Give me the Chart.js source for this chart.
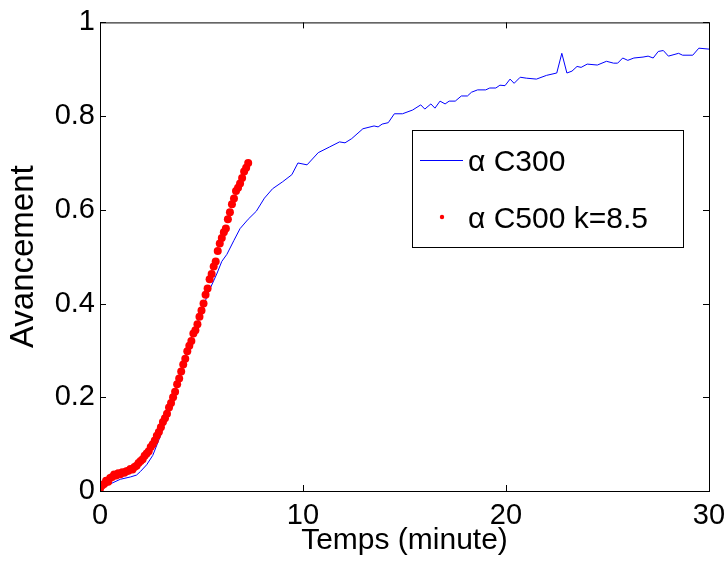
<!DOCTYPE html>
<html>
<head>
<meta charset="utf-8">
<script src="https://cdn.jsdelivr.net/npm/chart.js@4.4.1/dist/chart.umd.min.js"></script>
<style>
  html, body { margin: 0; padding: 0; background: #fff; }
  #wrap { width: 728px; height: 563px; }
</style>
</head>
<body>
<div id="wrap"><canvas id="avancement" width="728" height="563"></canvas></div>
<script>
// alpha C300 (blue line)
const blueT = [0, 0.5, 1.0, 1.5, 1.8, 2.0, 2.3, 2.6, 3.0, 3.3, 3.6, 4.0, 4.3, 4.6, 5.0, 5.3, 5.75, 6.0, 6.25, 6.6,
  6.9, 7.3, 7.7, 8.1, 8.5, 9.0, 9.45, 9.75, 10.2, 10.75, 11.3, 11.8, 12.07, 12.4, 12.95, 13.5, 13.7, 13.9, 14.2, 14.5,
  14.9, 15.4, 15.8, 16.0, 16.3, 16.5, 16.75, 17.0, 17.2, 17.5, 17.8, 18.1, 18.3, 18.6, 19.0, 19.2, 19.5, 19.7, 19.95, 20.2,
  20.4, 20.7, 21.0, 21.5, 22.0, 22.5, 22.75, 23.0, 23.25, 23.5, 23.7, 24.0, 24.5, 24.95, 25.3, 25.5, 25.75, 26.0, 26.3, 26.75,
  27.0, 27.25, 27.5, 27.75, 28.0, 28.5, 28.7, 29.2, 29.5, 30];
const blueY = [0.005, 0.015, 0.025, 0.03, 0.034, 0.042, 0.056, 0.076, 0.12, 0.16, 0.20, 0.255, 0.30, 0.34, 0.38, 0.42, 0.463, 0.49, 0.505, 0.535,
  0.56, 0.58, 0.597, 0.625, 0.645, 0.66, 0.675, 0.70, 0.696, 0.722, 0.734, 0.745, 0.743, 0.752, 0.773, 0.779, 0.777, 0.783, 0.786, 0.805,
  0.805, 0.813, 0.824, 0.815, 0.826, 0.817, 0.832, 0.826, 0.832, 0.832, 0.843, 0.843, 0.851, 0.856, 0.856, 0.86, 0.86, 0.866, 0.865, 0.879,
  0.87, 0.883, 0.881, 0.879, 0.887, 0.892, 0.934, 0.892, 0.896, 0.906, 0.904, 0.911, 0.909, 0.917, 0.913, 0.913, 0.924, 0.919, 0.924, 0.926,
  0.928, 0.924, 0.938, 0.94, 0.928, 0.934, 0.93, 0.93, 0.945, 0.943];

// alpha C500 k=8.5 (red dots)
const redT = [0, 0.1, 0.2, 0.3, 0.4, 0.5, 0.6, 0.7, 0.8, 0.9, 1.0, 1.1, 1.2, 1.3, 1.4, 1.5, 1.6, 1.7, 1.8, 1.9,
  2.0, 2.1, 2.2, 2.3, 2.4, 2.5, 2.6, 2.7, 2.8, 2.9, 3.0, 3.1, 3.2, 3.3, 3.4, 3.5, 3.6, 3.7, 3.8, 3.9,
  4.0, 4.1, 4.2, 4.3, 4.4, 4.5, 4.6, 4.7, 4.8, 4.9, 5.0, 5.1, 5.2, 5.3, 5.4, 5.5, 5.6, 5.7, 5.8, 5.9,
  6.0, 6.1, 6.2, 6.3, 6.4, 6.5, 6.6, 6.7, 6.8, 6.9, 7.0, 7.1, 7.2, 7.3];
const redY = [0.005, 0.012, 0.015, 0.022, 0.02, 0.028, 0.03, 0.035, 0.033, 0.038, 0.036, 0.04, 0.039, 0.042, 0.043, 0.047, 0.046, 0.051, 0.054, 0.06,
  0.064, 0.068, 0.075, 0.08, 0.085, 0.094, 0.1, 0.108, 0.118, 0.126, 0.136, 0.147, 0.155, 0.165, 0.178, 0.188, 0.2, 0.212, 0.228, 0.24,
  0.255, 0.27, 0.282, 0.298, 0.31, 0.32, 0.336, 0.343, 0.356, 0.372, 0.385, 0.4, 0.419, 0.432, 0.452, 0.463, 0.479, 0.49, 0.512, 0.528,
  0.54, 0.552, 0.56, 0.58, 0.595, 0.612, 0.624, 0.64, 0.647, 0.656, 0.668, 0.682, 0.69, 0.70];

const xTicks = [0, 10, 20, 30];
const yTicks = [0, 0.2, 0.4, 0.6, 0.8, 1];
const legendLabels = ['\u03B1 C300', '\u03B1 C500 k=8.5'];

const FONT = '"Liberation Sans", Arial, sans-serif';

// matlab-style box with inward ticks on all four sides
const boxFrame = {
  id: 'boxFrame',
  afterDatasetsDraw(chart) {
    const {ctx, chartArea: a, scales} = chart;
    ctx.save();
    ctx.strokeStyle = '#000';
    ctx.lineWidth = 1;
    ctx.strokeRect(a.left + 0.5, a.top + 0.5, a.right - a.left, a.bottom - a.top);
    ctx.beginPath();
    for (const v of xTicks) {
      const px = Math.round(scales.x.getPixelForValue(v)) + 0.5;
      ctx.moveTo(px, a.bottom); ctx.lineTo(px, a.bottom - 6);
      ctx.moveTo(px, a.top); ctx.lineTo(px, a.top + 6);
    }
    for (const v of yTicks) {
      const py = Math.round(scales.y.getPixelForValue(v)) + 0.5;
      ctx.moveTo(a.left, py); ctx.lineTo(a.left + 6, py);
      ctx.moveTo(a.right, py); ctx.lineTo(a.right - 6, py);
    }
    ctx.stroke();
    ctx.restore();
  }
};

// boxed legend inside the plot area
const boxLegend = {
  id: 'boxLegend',
  afterDraw(chart) {
    const ctx = chart.ctx;
    const ds = chart.data.datasets;
    ctx.save();
    ctx.fillStyle = '#fff';
    ctx.fillRect(412, 130, 271, 117);
    ctx.strokeStyle = '#000';
    ctx.lineWidth = 1;
    ctx.strokeRect(412.5, 130.5, 271, 117);
    ctx.strokeStyle = ds[0].borderColor;
    ctx.beginPath();
    ctx.moveTo(420, 160.5); ctx.lineTo(463, 160.5);
    ctx.stroke();
    ctx.fillStyle = ds[1].backgroundColor;
    ctx.beginPath();
    ctx.arc(442, 217, 2.2, 0, Math.PI * 2);
    ctx.fill();
    ctx.fillStyle = '#000';
    ctx.font = '30px ' + FONT;
    ctx.textBaseline = 'middle';
    ctx.fillText(ds[0].label, 468, 163);
    ctx.fillText(ds[1].label, 468, 220);
    ctx.restore();
  }
};

const ctx = document.getElementById('avancement').getContext('2d');
new Chart(ctx, {
  type: 'scatter',
  data: {
    datasets: [{
      label: legendLabels[0],
      data: blueT.map((t, i) => ({x: t, y: blueY[i]})),
      showLine: true,
      borderColor: '#0000ff',
      borderWidth: 1,
      pointRadius: 0,
      fill: false,
      order: 2
    }, {
      label: legendLabels[1],
      data: redT.map((t, i) => ({x: t, y: redY[i]})),
      showLine: false,
      backgroundColor: '#ff0000',
      borderColor: '#ff0000',
      borderWidth: 0,
      pointRadius: 4,
      order: 1
    }]
  },
  options: {
    responsive: false,
    animation: false,
    events: [],
    layout: { padding: { top: 20, right: 19, left: 0, bottom: 0 } },
    plugins: {
      legend: { display: false },
      tooltip: { enabled: false }
    },
    scales: {
      x: {
        type: 'linear',
        min: 0, max: 30,
        afterBuildTicks: s => { s.ticks = xTicks.map(v => ({value: v})); },
        afterFit: s => { s.height = 72; s.paddingRight = 0; },
        grid: { display: false, drawTicks: false },
        border: { display: false },
        ticks: { color: '#000', padding: 8, maxRotation: 0, font: { family: FONT, size: 29 } },
        title: { display: true, text: 'Temps (minute)', color: '#000', padding: { top: 0, bottom: 4 }, font: { family: FONT, size: 30 } }
      },
      y: {
        type: 'linear',
        min: 0, max: 1,
        afterBuildTicks: s => { s.ticks = yTicks.map(v => ({value: v})); },
        afterFit: s => { s.width = 100; },
        grid: { display: false, drawTicks: false },
        border: { display: false },
        ticks: { color: '#000', padding: 5, callback: v => String(v), font: { family: FONT, size: 29 } },
        title: { display: true, text: 'Avancement', color: '#000', padding: { top: 4, bottom: 0 }, font: { family: FONT, size: 33 } }
      }
    }
  },
  plugins: [boxFrame, boxLegend]
});
</script>
</body>
</html>
